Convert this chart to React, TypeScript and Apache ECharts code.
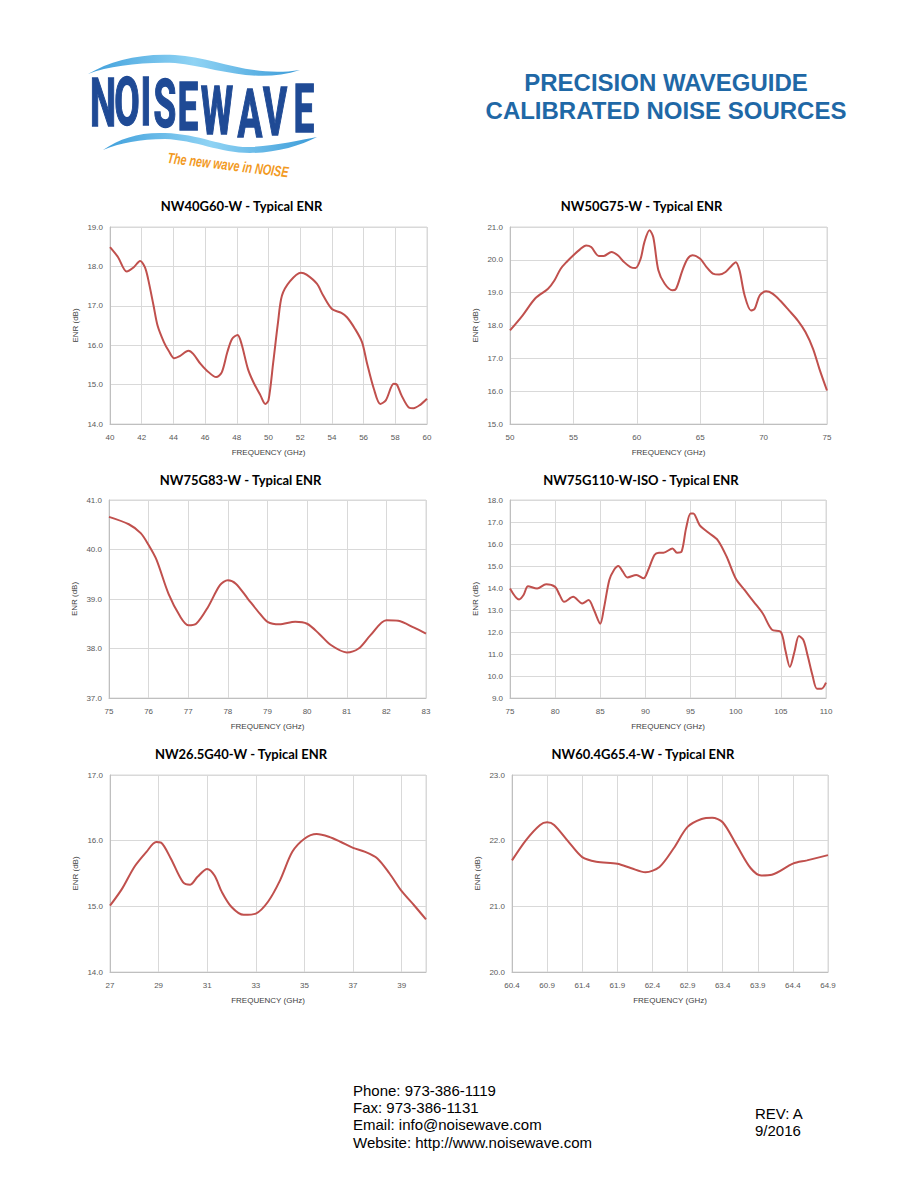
import React, { useEffect, useRef } from "react";
import * as echarts from "echarts";

// ---------- DATA ----------
const chartTitles = [
  "NW40G60-W - Typical ENR",
  "NW50G75-W - Typical ENR",
  "NW75G83-W - Typical ENR",
  "NW75G110-W-ISO - Typical ENR",
  "NW26.5G40-W - Typical ENR",
  "NW60.4G65.4-W - Typical ENR",
];

const freq40G60 = [40, 40.5, 41.05, 41.5, 41.9, 42.2, 42.4, 42.75, 43, 43.4, 43.7, 44.05, 44.4, 44.95, 45.25, 45.7, 46.1, 46.7, 47.05, 47.4, 47.7, 48.05, 48.3, 48.7, 49.05, 49.5, 49.8, 50, 50.3, 50.6, 50.85, 51.35, 52.05, 52.4, 53.05, 53.45, 54, 54.6, 54.95, 55.45, 55.9, 56.2, 56.65, 57.05, 57.4, 57.9, 58.1, 58.4, 58.85, 59.15, 59.55, 60];
const enr40G60 = [18.49, 18.24, 17.87, 17.98, 18.14, 17.98, 17.69, 17.0, 16.5, 16.08, 15.86, 15.67, 15.72, 15.86, 15.78, 15.53, 15.36, 15.19, 15.31, 15.82, 16.16, 16.26, 16.03, 15.4, 15.06, 14.72, 14.51, 14.6, 15.57, 16.58, 17.26, 17.62, 17.84, 17.79, 17.56, 17.26, 16.92, 16.82, 16.71, 16.42, 16.08, 15.57, 14.89, 14.51, 14.6, 15.02, 15.0, 14.72, 14.42, 14.4, 14.48, 14.64];

const freq50G75 = [50, 51, 52, 53, 53.5, 54, 54.5, 55, 55.5, 56, 56.4, 57, 57.4, 58, 58.5, 59, 59.5, 59.9, 60.3, 60.6, 61, 61.3, 61.7, 62.2, 62.8, 63.1, 63.6, 64, 64.4, 65, 65.5, 66, 66.5, 67, 67.5, 67.8, 68.1, 68.5, 69, 69.3, 69.7, 70.2, 70.7, 71.3, 72, 72.7, 73.3, 73.9, 74.4, 75];
const enr50G75 = [17.85, 18.31, 18.83, 19.12, 19.37, 19.73, 19.95, 20.14, 20.31, 20.44, 20.39, 20.12, 20.12, 20.24, 20.14, 19.93, 19.78, 19.75, 20.03, 20.54, 20.9, 20.69, 19.68, 19.27, 19.07, 19.12, 19.68, 20.03, 20.14, 20.03, 19.78, 19.58, 19.55, 19.63, 19.83, 19.93, 19.68, 18.92, 18.46, 18.51, 18.92, 19.04, 18.97, 18.76, 18.46, 18.15, 17.8, 17.29, 16.68, 16.02];

const freq75G83 = [75, 75.5, 75.8, 76, 76.2, 76.5, 76.8, 77, 77.2, 77.5, 77.8, 78, 78.2, 78.5, 78.8, 79, 79.3, 79.7, 80, 80.3, 80.6, 81, 81.3, 81.6, 82, 82.3, 82.7, 83];
const enr75G83 = [40.66, 40.51, 40.33, 40.09, 39.79, 39.11, 38.64, 38.47, 38.5, 38.84, 39.28, 39.38, 39.31, 39.01, 38.71, 38.54, 38.49, 38.54, 38.5, 38.3, 38.07, 37.92, 38.0, 38.27, 38.57, 38.56, 38.42, 38.3];

const freq75G110 = [75, 76, 76.5, 77, 78, 79, 80, 80.5, 81, 82, 83, 83.7, 84.3, 85, 85.4, 86, 86.5, 87, 87.5, 88, 89, 89.8, 90.3, 91, 91.5, 92, 93, 93.5, 94, 94.5, 95, 95.3, 96, 97, 98, 99, 100, 101, 102, 103, 104, 105, 105.5, 106, 106.5, 107, 107.5, 108, 108.5, 109, 109.5, 110];
const enr75G110 = [13.98, 13.48, 13.68, 14.08, 13.98, 14.17, 14.05, 13.68, 13.37, 13.6, 13.3, 13.45, 13.0, 12.38, 13.07, 14.36, 14.81, 15.0, 14.74, 14.48, 14.59, 14.44, 14.81, 15.5, 15.6, 15.6, 15.8, 15.6, 15.65, 16.71, 17.39, 17.39, 16.86, 16.51, 16.18, 15.42, 14.43, 13.9, 13.37, 12.84, 12.11, 12.0, 11.17, 10.41, 11.09, 11.82, 11.63, 10.87, 10.03, 9.42, 9.42, 9.7];

const freq26G40 = [27, 27.5, 28, 28.5, 28.9, 29.1, 29.5, 30, 30.3, 30.6, 31, 31.3, 31.6, 32, 32.5, 33, 33.5, 34, 34.5, 35, 35.5, 36, 36.5, 37, 37.5, 38, 38.5, 39, 39.5, 40];
const enr26G40 = [15.01, 15.27, 15.6, 15.83, 15.98, 15.97, 15.73, 15.37, 15.33, 15.45, 15.57, 15.47, 15.22, 14.99, 14.87, 14.89, 15.07, 15.4, 15.83, 16.03, 16.1, 16.06, 15.98, 15.89, 15.83, 15.73, 15.5, 15.23, 15.02, 14.8];

const freq60G65 = [60.4, 60.6, 60.8, 60.9, 61.0, 61.2, 61.4, 61.6, 61.9, 62.1, 62.3, 62.5, 62.7, 62.9, 63.1, 63.25, 63.4, 63.6, 63.8, 63.95, 64.1, 64.4, 64.6, 64.9];
const enr60G65 = [21.7, 22.01, 22.24, 22.28, 22.24, 21.99, 21.75, 21.68, 21.65, 21.58, 21.52, 21.6, 21.88, 22.21, 22.33, 22.35, 22.28, 21.93, 21.58, 21.47, 21.48, 21.65, 21.7, 21.78];

// x: [min, max, interval, label decimals]
const xAxisRanges = [
  [40, 60, 2, 0],
  [50, 75, 5, 0],
  [75, 83, 1, 0],
  [75, 110, 5, 0],
  [27, 40, 2, 0],
  [60.4, 64.9, 0.5, 1],
];
// y: [min, max, interval]
const yAxisRanges = [
  [14, 19, 1],
  [15, 21, 1],
  [37, 41, 1],
  [9, 18, 1],
  [14, 17, 1],
  [20, 23, 1],
];
// whether the range end (not on a tick step) gets a label
const showEndLabel = [true, true, true, true, false, true];

const xAxisName = "FREQUENCY (GHz)";
const yAxisName = "ENR (dB)";

const headerLines = ["PRECISION WAVEGUIDE", "CALIBRATED NOISE SOURCES"];
const footerContact = [
  "Phone: 973-386-1119",
  "Fax: 973-386-1131",
  "Email: info@noisewave.com",
  "Website: http://www.noisewave.com",
];
const footerRevision = ["REV: A", "9/2016"];
const logoWord = "NOISEWAVE";
const logoTagline = "The new wave in NOISE";

const seriesFreq = [freq40G60, freq50G75, freq75G83, freq75G110, freq26G40, freq60G65];
const seriesEnr = [enr40G60, enr50G75, enr75G83, enr75G110, enr26G40, enr60G65];

// ---------- LOGO SHAPES ----------
const upperWavePath =
  "M88 74 C110 61 140 53 175 55 C215 57 250 78 300 70 C255 85 215 67 175 63 C140 62 110 66 88 74 Z";
const lowerWavePath =
  "M103 150 C120 138 140 132 165 133 C200 134 225 148 250 147 C275 146 300 140 317 137 C300 146 275 153 250 153 C220 153 195 140 165 139 C140 139 120 143 103 150 Z";
echarts.graphic.registerShape("nwUpperWave", echarts.graphic.extendPath(upperWavePath, {}));
echarts.graphic.registerShape("nwLowerWave", echarts.graphic.extendPath(lowerWavePath, {}));

// ---------- LAYOUT ----------
const gridBoxes = [
  { left: 110, top: 227, width: 317, height: 197 },
  { left: 510, top: 227, width: 317, height: 197 },
  { left: 109, top: 500, width: 317, height: 198 },
  { left: 510, top: 500, width: 316, height: 198 },
  { left: 110, top: 775, width: 316, height: 197 },
  { left: 512, top: 775, width: 316, height: 197 },
];
const titleCenterY = [206, 206, 480, 480, 754, 754];
const letterCenterX = [103, 127, 146, 165, 188, 217, 250, 275, 304];
const letterTopY = [79, 78, 78, 80, 83, 87, 90, 88, 85];

const LINE_RED = "#c0504d";
const GRID_GRAY = "#d9d9d9";
const LABEL_GRAY = "#595959";
const HEADER_BLUE = "#1f68a6";
const LOGO_NAVY = "#1f4a95";

const r3 = (v: number) => Math.round(v * 1000) / 1000;

function buildOption() {
  const grids: any[] = [];
  const xAxes: any[] = [];
  const yAxes: any[] = [];
  const series: any[] = [];
  const graphics: any[] = [];

  gridBoxes.forEach((g, i) => {
    const [xMin, xMax, xInt, xDec] = xAxisRanges[i];
    const [yMin, yMax, yInt] = yAxisRanges[i];
    grids.push({
      left: g.left,
      top: g.top,
      width: g.width,
      height: g.height,
      show: true,
      borderColor: GRID_GRAY,
      borderWidth: 1,
      containLabel: false,
    });
    xAxes.push({
      type: "value",
      gridIndex: i,
      min: 0,
      max: r3(xMax - xMin),
      interval: xInt,
      axisLine: { show: true, onZero: false, lineStyle: { color: "#bfbfbf", width: 1 } },
      axisTick: { show: false },
      splitLine: { show: true, lineStyle: { color: GRID_GRAY, width: 1 } },
      axisLabel: {
        color: LABEL_GRAY,
        fontSize: 8,
        fontFamily: "Liberation Sans",
        margin: 9,
        showMaxLabel: showEndLabel[i] ? true : false,
        formatter: (v: number) => r3(v + xMin).toFixed(xDec),
      },
      name: xAxisName,
      nameLocation: "middle",
      nameGap: 24,
      nameTextStyle: { color: "#404040", fontSize: 8, fontFamily: "Liberation Sans" },
    });
    yAxes.push({
      type: "value",
      gridIndex: i,
      min: yMin,
      max: yMax,
      interval: yInt,
      axisLine: { show: true, lineStyle: { color: "#bfbfbf", width: 1 } },
      axisTick: { show: false },
      splitLine: { show: true, lineStyle: { color: GRID_GRAY, width: 1 } },
      axisLabel: {
        color: LABEL_GRAY,
        fontSize: 8,
        fontFamily: "Liberation Sans",
        margin: 7,
        formatter: (v: number) => v.toFixed(1),
      },
      name: yAxisName,
      nameLocation: "middle",
      nameGap: 31,
      nameTextStyle: { color: "#404040", fontSize: 8, fontFamily: "Liberation Sans" },
    });
    series.push({
      type: "line",
      xAxisIndex: i,
      yAxisIndex: i,
      smooth: 0.3,
      showSymbol: false,
      symbol: "none",
      lineStyle: { color: LINE_RED, width: 2 },
      data: seriesFreq[i].map((f, j) => [r3(f - xMin), seriesEnr[i][j]]),
    });
    graphics.push({
      type: "text",
      x: g.left + g.width / 2 - 27,
      y: titleCenterY[i],
      style: {
        text: chartTitles[i],
        fill: "#000000",
        font: "bold 13px Lato",
        textAlign: "center",
        textVerticalAlign: "middle",
        align: "center",
        verticalAlign: "middle",
      },
    });
  });

  // Logo waves
  const waveFill = new echarts.graphic.LinearGradient(0, 0, 1, 0, [
    { offset: 0, color: "#3f9fdb" },
    { offset: 0.5, color: "#8fd3f4" },
    { offset: 1, color: "#3b9bd8" },
  ]);
  graphics.push({ type: "nwUpperWave", style: { fill: waveFill } });
  graphics.push({ type: "nwLowerWave", style: { fill: waveFill } });

  // Logo letters
  logoWord.split("").forEach((ch, k) => {
    graphics.push({
      type: "text",
      x: letterCenterX[k],
      y: letterTopY[k] + 24,
      scaleX: 0.56,
      style: {
        text: ch,
        font: "bold 66px Roboto",
        fill: LOGO_NAVY,
        stroke: LOGO_NAVY,
        lineWidth: 1.5,
        textAlign: "center",
        textVerticalAlign: "middle",
        align: "center",
        verticalAlign: "middle",
      },
    });
  });

  // Tagline
  graphics.push({
    type: "text",
    x: 228,
    y: 165,
    rotation: -0.12,
    scaleX: 0.72,
    style: {
      text: logoTagline,
      font: "italic bold 15px 'Liberation Sans'",
      fill: "#f29a1f",
      textAlign: "center",
      textVerticalAlign: "middle",
      align: "center",
      verticalAlign: "middle",
    },
  });

  // Header
  headerLines.forEach((t, k) => {
    graphics.push({
      type: "text",
      x: 666,
      y: 82 + k * 28,
      style: {
        text: t,
        font: "bold 24px 'Liberation Sans'",
        fill: HEADER_BLUE,
        textAlign: "center",
        textVerticalAlign: "middle",
        align: "center",
        verticalAlign: "middle",
      },
    });
  });

  // Footer
  footerContact.forEach((t, k) => {
    graphics.push({
      type: "text",
      x: 353,
      y: 1090 + k * 17.4,
      style: {
        text: t,
        font: "15px 'Liberation Sans'",
        fill: "#000000",
        textAlign: "left",
        textVerticalAlign: "middle",
        align: "left",
        verticalAlign: "middle",
      },
    });
  });
  footerRevision.forEach((t, k) => {
    graphics.push({
      type: "text",
      x: 755,
      y: 1113 + k * 17,
      style: {
        text: t,
        font: "15px 'Liberation Sans'",
        fill: "#000000",
        textAlign: "left",
        textVerticalAlign: "middle",
        align: "left",
        verticalAlign: "middle",
      },
    });
  });

  return {
    animation: false,
    backgroundColor: "#ffffff",
    grid: grids,
    xAxis: xAxes,
    yAxis: yAxes,
    series,
    graphic: graphics,
  };
}

export default function App() {
  const ref = useRef<HTMLDivElement>(null);
  useEffect(() => {
    document.body.style.margin = "0";
    if (!ref.current) return;
    const chart = echarts.init(ref.current, undefined, { renderer: "svg" });
    chart.setOption(buildOption() as any);
    return () => chart.dispose();
  }, []);
  return (
    <div
      ref={ref}
      style={{ position: "absolute", left: 0, top: 0, width: 921, height: 1193, background: "#fff" }}
    />
  );
}
